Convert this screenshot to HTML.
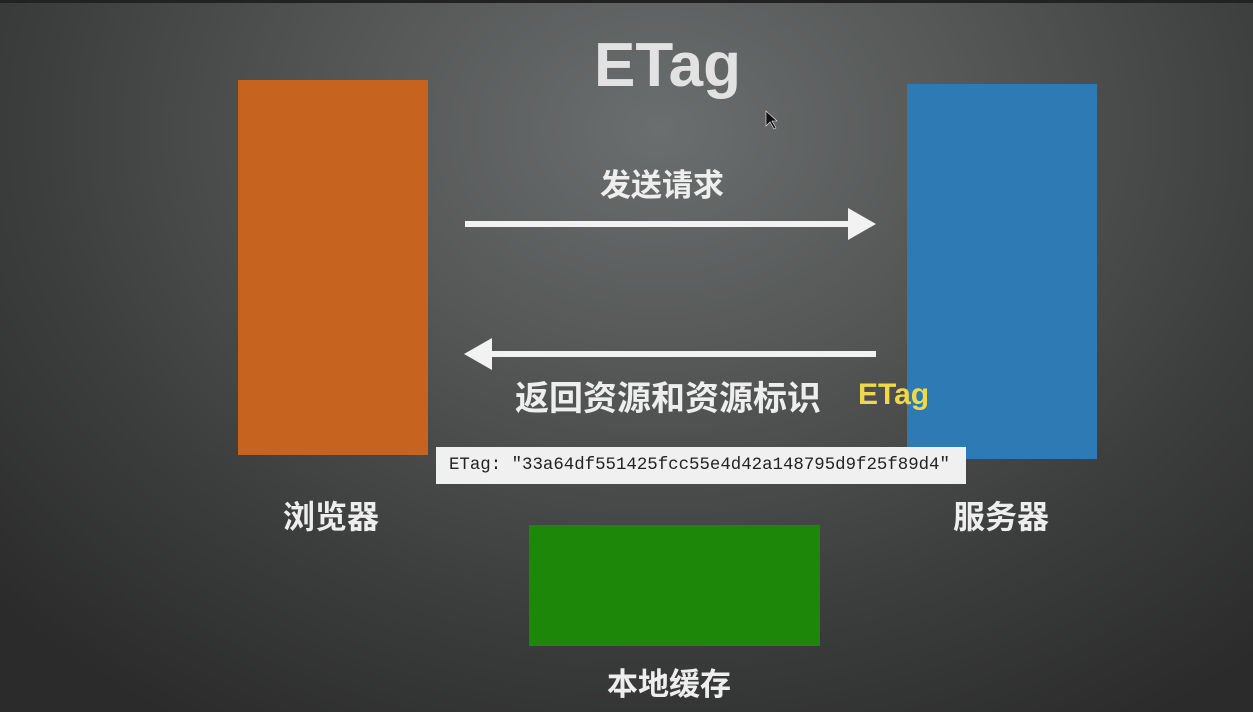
<!DOCTYPE html>
<html><head><meta charset="utf-8"><style>
html,body{margin:0;padding:0}
body{width:1253px;height:712px;overflow:hidden;position:relative;
background:radial-gradient(ellipse 900px 700px at 660px 130px,#6b6e6e 0%,#555757 35%,#3c3d3d 70%,#2b2b2b 100%);
font-family:"Liberation Sans","Noto Sans CJK SC",sans-serif;}
.top{position:absolute;left:0;top:0;width:1253px;height:3px;background:#222}
.b{position:absolute}
.t{position:absolute;color:#eee;font-weight:bold;white-space:nowrap}
</style></head><body>
<div class="top"></div>
<div class="b" style="left:238px;top:80px;width:190px;height:375px;background:#c6631e"></div>
<div class="b" style="left:907px;top:84px;width:190px;height:375px;background:#2d7ab5"></div>
<div class="b" style="left:529px;top:525px;width:291px;height:121px;background:#1d870a"></div>
<div class="t" style="left:594px;top:30px;font-size:62px;color:#e2e2e2">ETag</div>
<div class="t" style="left:600px;top:160px;font-size:31px">发送请求</div>
<div class="t" style="left:515px;top:371px;font-size:34px">返回资源和资源标识</div>
<div class="t" style="left:858px;top:378px;font-size:30px;color:#f0d84a">ETag</div>
<div class="t" style="left:283px;top:492px;font-size:32px">浏览器</div>
<div class="t" style="left:953px;top:492px;font-size:32px">服务器</div>
<div class="t" style="left:607px;top:659px;font-size:31px">本地缓存</div>
<svg class="b" style="left:0;top:0" width="1253" height="712">
<line x1="465" y1="224" x2="852" y2="224" stroke="#f2f2f2" stroke-width="6"/>
<polygon points="848,208 876,224 848,240" fill="#f2f2f2"/>
<line x1="490" y1="354" x2="876" y2="354" stroke="#f2f2f2" stroke-width="6"/>
<polygon points="492,338 464,354 492,370" fill="#f2f2f2"/>
<polygon points="766,111 766,126 770,122 774,129 776,128 772,121 777,121" fill="#111" stroke="#eee" stroke-width="0.6"/>
</svg>
<div class="b" style="left:436px;top:447px;width:530px;height:37px;background:#f0f0f0"></div>
<div class="t" style="left:449px;top:456px;font-size:17.4px;font-weight:normal;color:#222;font-family:'Liberation Mono',monospace">ETag: "33a64df551425fcc55e4d42a148795d9f25f89d4"</div>
</body></html>
